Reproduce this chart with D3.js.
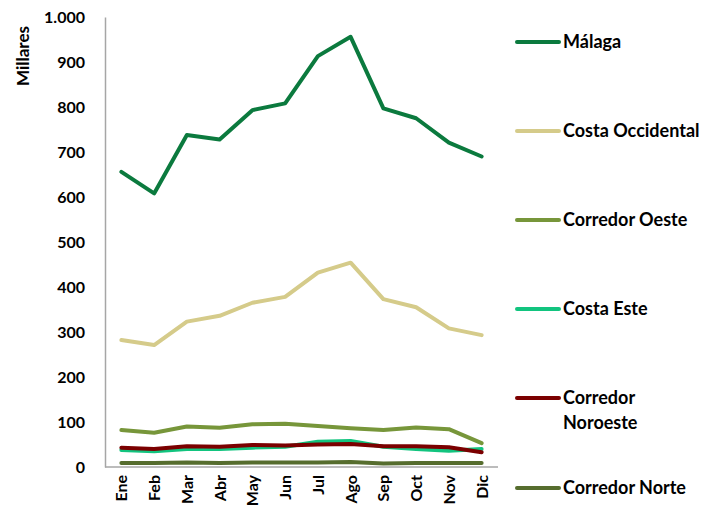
<!DOCTYPE html>
<html>
<head>
<meta charset="utf-8">
<script src="https://cdn.jsdelivr.net/npm/d3@7"></script>
<style>
  html, body { margin: 0; padding: 0; background: #fff; }
  svg { display: block; }
  text { font-family: Lato, "Noto Sans", sans-serif; font-weight: bold; fill: #000; }
</style>
</head>
<body>
<svg id="chart" width="704" height="511"></svg>
<script>
// Monthly figures (thousands) by area
const months = ["Ene", "Feb", "Mar", "Abr", "May", "Jun", "Jul", "Ago", "Sep", "Oct", "Nov", "Dic"];
const seriesNames = ["Málaga", "Costa Occidental", "Corredor Oeste", "Costa Este", "Corredor Noroeste", "Corredor Norte"];
const malaga = [656, 608, 738, 728, 793, 808, 913, 956, 797, 775, 721, 690];
const costaOccidental = [282, 271, 323, 336, 365, 378, 432, 454, 373, 355, 308, 293];
const corredorOeste = [82, 76, 90, 87, 95, 96, 91, 86, 82, 88, 84, 53];
const costaEste = [38, 35, 40, 40, 43, 45, 56, 58, 45, 40, 36, 40];
const corredorNoroeste = [43, 40, 46, 45, 49, 48, 50, 51, 46, 46, 44, 33];
const corredorNorte = [9, 9, 10, 9, 10, 10, 10, 11, 8, 9, 9, 9];
const yTicks = [0, 100, 200, 300, 400, 500, 600, 700, 800, 900, 1000];
const colors = ["#0b7a3e", "#d5cb8a", "#77963a", "#12c47f", "#7b0000", "#566d2e"];

const seriesValues = [malaga, costaOccidental, corredorOeste, costaEste, corredorNoroeste, corredorNorte];

const svg = d3.select("#chart");
const plot = { left: 105, right: 498, top: 17, bottom: 467 };

const x = d3.scalePoint().domain(months).range([plot.left, plot.right]).padding(0.5);
const y = d3.scaleLinear().domain([0, 1000]).range([plot.bottom, plot.top]);

const fmt = v => d3.format(",")(v).replace(/,/g, ".");

// Y axis
const yAxis = svg.append("g")
  .attr("transform", `translate(${plot.left},0)`)
  .call(d3.axisLeft(y).tickValues(yTicks).tickSize(0).tickPadding(20).tickFormat(fmt));
yAxis.select(".domain").attr("stroke", "#a6a6a6").attr("stroke-width", 1.5);
yAxis.selectAll("text").attr("font-size", 16);

// X axis
const xAxis = svg.append("g")
  .attr("transform", `translate(0,${plot.bottom})`)
  .call(d3.axisBottom(x).tickSize(0).tickSizeOuter(0));
xAxis.select(".domain").attr("d", `M${plot.left},0H${plot.right}`)
  .attr("stroke", "#a6a6a6").attr("stroke-width", 1.5);
xAxis.selectAll("text")
  .attr("font-size", 16)
  .attr("text-anchor", "end")
  .attr("dy", "0.35em")
  .attr("transform", "translate(0,8) rotate(-90)")
  .attr("x", 0).attr("y", 0);

svg.selectAll(".tick text").style("font-family", null);
svg.selectAll(".tick").attr("font-family", null);
svg.selectAll("g").attr("font-family", null);

// Axis title
svg.append("text")
  .attr("transform", "translate(29,56) rotate(-90)")
  .attr("text-anchor", "middle")
  .attr("font-size", 17)
  .text("Millares");

// Series lines
const line = d3.line()
  .x((d, i) => x(months[i]))
  .y(d => y(d));

svg.append("g").selectAll("path")
  .data(seriesValues)
  .join("path")
  .attr("d", line)
  .attr("fill", "none")
  .attr("stroke", (d, i) => colors[i])
  .attr("stroke-width", 4)
  .attr("stroke-linejoin", "round")
  .attr("stroke-linecap", "round");

// Legend
const legendY = [42, 131, 220, 309, 398, 488];
const legend = svg.append("g").selectAll("g")
  .data(seriesNames)
  .join("g")
  .attr("transform", (d, i) => `translate(0,${legendY[i]})`);

legend.append("line")
  .attr("x1", 517).attr("x2", 559)
  .attr("stroke", (d, i) => colors[i])
  .attr("stroke-width", 4)
  .attr("stroke-linecap", "round");

legend.append("text")
  .attr("x", 563)
  .attr("font-size", 18)
  .each(function(d) {
    const t = d3.select(this);
    const parts = d === "Corredor Noroeste" ? ["Corredor", "Noroeste"] : [d];
    parts.forEach((p, k) => {
      t.append("tspan").attr("x", 563).attr("dy", k === 0 ? "0.35em" : "1.4em").text(p);
    });
  });
</script>
</body>
</html>
